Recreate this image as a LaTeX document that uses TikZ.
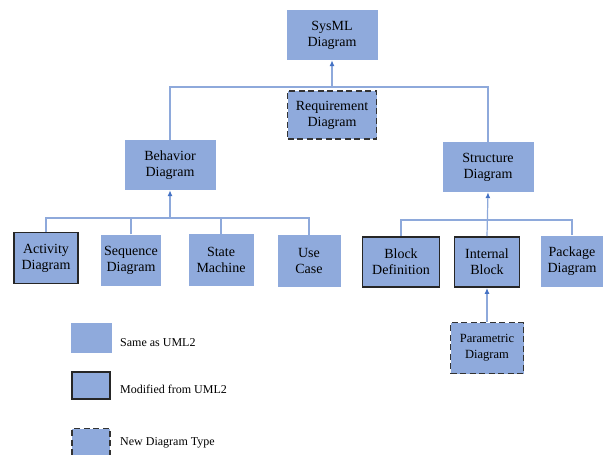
\documentclass[tikz,border=0pt]{standalone}
\usepackage{fontspec}
\setmainfont{Liberation Serif}
\usetikzlibrary{positioning,arrows.meta}
\definecolor{boxblue}{HTML}{8FAADC}
\definecolor{linkblue}{HTML}{8EA9DB}
\definecolor{tipblue}{HTML}{4472C4}
\tikzset{
  same/.style={fill=boxblue, draw=none, inner sep=1pt, align=center,
    font=\fontsize{14}{16}\selectfont},
  modified/.style={same, draw=black!85, line width=1.8pt},
  newtype/.style={same, draw=black!80, line width=1.8pt, dash pattern=on 6pt off 3.5pt},
  link/.style={draw=linkblue, line width=1.2pt},
  uplink/.style={link, -{Latex[length=6pt,width=5pt,color=tipblue]}},
  legtext/.style={anchor=west, inner sep=0pt, font=\fontsize{12}{14}\selectfont}
}
\begin{document}
\begin{tikzpicture}[x=1pt,y=-1pt]
\useasboundingbox (0,0) rectangle (605,455);
% top level
\node[same, minimum width=91, minimum height=50] (sysml) at (332,35) {SysML\\Diagram};
\node[newtype, minimum width=89, minimum height=48] (req) at (332,115) {Requirement\\Diagram};
\node[same, minimum width=91, minimum height=50] (beh) at (170,165) {Behavior\\Diagram};
\node[same, minimum width=91, minimum height=50] (str) at (488,167) {Structure\\Diagram};
% behavior side
\node[modified, minimum width=64, minimum height=51] (act) at (46,258) {Activity\\Diagram};
\node[same, minimum width=60, minimum height=51] (seq) at (131,260) {Sequence\\Diagram};
\node[same, minimum width=65, minimum height=52] (stm) at (221,260) {State\\Machine};
\node[same, minimum width=63, minimum height=52] (uc) at (309,261) {Use\\Case};
% structure side
\node[modified, minimum width=77, minimum height=50] (bdd) at (401,262) {Block\\Definition};
\node[modified, minimum width=65, minimum height=50] (ibd) at (487,262) {Internal\\Block};
\node[same, minimum width=62, minimum height=51] (pkg) at (572,261) {Package\\Diagram};
\node[newtype, minimum width=73, minimum height=51, font=\fontsize{12.5}{16}\selectfont] (par) at (487,348) {Parametric\\Diagram};
% bus points
\coordinate (topbus) at (332,87);
\coordinate (behbus) at (170,218);
\coordinate (strbus) at (487,220);

\draw[link] (beh.north) |- (topbus) -| (str.north);
\draw[uplink] (topbus) -- (sysml.south);
\draw[link] (act.north) |- (behbus) -| (uc.north);
\draw[link] (seq.north) -- (seq.north |- behbus);
\draw[link] (stm.north) -- (stm.north |- behbus);
\draw[uplink] (behbus) -- (beh.south);
\draw[link] (bdd.north) |- (strbus) -| (pkg.north);
\draw[uplink] (ibd.north) -- (str.south);
\draw[uplink] (par.north) -- (ibd.south);

% legend
\node[same, minimum width=41, minimum height=30] (legsame) at (91.5,338) {};
\node[modified, minimum width=38, minimum height=27] (legmod) at (91,385.5) {};
\node[newtype, minimum width=38, minimum height=27] (legnew) at (91,442) {};
\node[legtext] (tsame) at (120,343) {Same as UML2};
\node[legtext] (tmod) at (120,389) {Modified from UML2};
\node[legtext] (tnew) at (120,443) {New Diagram Type};
\end{tikzpicture}
\end{document}
